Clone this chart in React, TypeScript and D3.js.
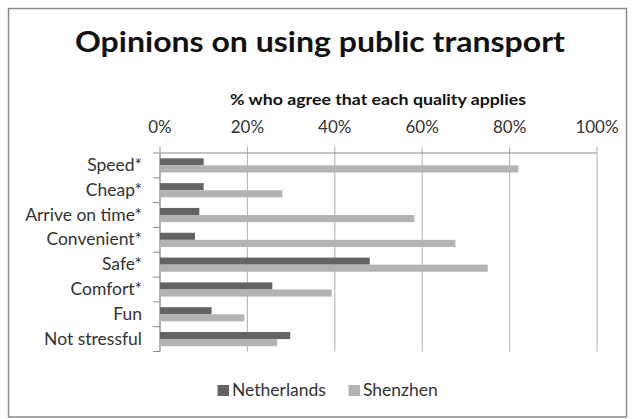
import React from "react";
import * as d3 from "d3";

const categories = ["Speed*", "Cheap*", "Arrive on time*", "Convenient*", "Safe*", "Comfort*", "Fun", "Not stressful"];
const netherlands = [10, 10, 9, 8, 48, 25.7, 11.8, 29.8];
const shenzhen = [82, 28, 58.2, 67.6, 75, 39.3, 19.3, 26.8];
const seriesNames = ["Netherlands", "Shenzhen"];
const seriesColors = ["#646464", "#b3b3b3"];
const xTicks = [0, 20, 40, 60, 80, 100];

const FONT = "Lato, 'Open Sans', sans-serif";

export default function App() {
  const left = 160, right = 597, top = 153, bottom = 351.5;
  const x = d3.scaleLinear().domain([0, 100]).range([left, right]);
  const y = d3.scaleBand<string>().domain(categories).range([top, bottom]).paddingInner(0).paddingOuter(0);
  const band = y.bandwidth();
  const barH = band / 3.5;
  const series = [netherlands, shenzhen];

  return (
    <svg width={635} height={419} style={{ position: "absolute", left: 0, top: 0 }} fontFamily={FONT}>
      <rect x={0} y={0} width={635} height={419} fill="#fff" />
      <rect x={8.5} y={8.5} width={618} height={408.5} fill="none" stroke="#8a8a8a" strokeWidth={1.5} />
      <text x={320} y={52} textAnchor="middle" fontSize={29} fontWeight="bold" fill="#111" textLength={490} lengthAdjust="spacingAndGlyphs">
        Opinions on using public transport
      </text>
      <text x={378} y={105} textAnchor="middle" fontSize={16} fontWeight="bold" fill="#111" textLength={296} lengthAdjust="spacingAndGlyphs">
        % who agree that each quality applies
      </text>
      {xTicks.map((t) => (
        <g key={t}>
          <line x1={x(t)} x2={x(t)} y1={146.5} y2={bottom} stroke={t === 0 ? "#9a9a9a" : "#b0b0b0"} strokeWidth={1} />
          <text x={x(t)} y={133} textAnchor="middle" fontSize={17} fill="#333">
            {t}%
          </text>
        </g>
      ))}
      <line x1={left} x2={right} y1={153} y2={153} stroke="#8a8a8a" strokeWidth={1.2} />
      <line x1={left} x2={left} y1={top} y2={bottom} stroke="#9a9a9a" strokeWidth={1} />
      {d3.range(categories.length + 1).map((i) => (
        <line key={i} x1={153} x2={left} y1={top + i * band} y2={top + i * band} stroke="#8a8a8a" strokeWidth={1} />
      ))}
      {categories.map((c, i) => (
        <g key={c}>
          <text x={142} y={(y(c) as number) + band / 2 + 5.5} textAnchor="end" fontSize={17.5} fill="#333">
            {c}
          </text>
          {series.map((s, k) => (
            <rect
              key={k}
              x={x(0)}
              y={(y(c) as number) + barH * 0.75 + k * barH}
              width={x(s[i]) - x(0)}
              height={barH}
              fill={seriesColors[k]}
            />
          ))}
        </g>
      ))}
      {seriesNames.map((n, k) => {
        const lx = [217.5, 348.5][k];
        return (
          <g key={n}>
            <rect x={lx} y={385} width={11.5} height={11} fill={seriesColors[k]} />
            <text x={lx + 14.5} y={396} fontSize={17.5} fill="#333">
              {n}
            </text>
          </g>
        );
      })}
    </svg>
  );
}
